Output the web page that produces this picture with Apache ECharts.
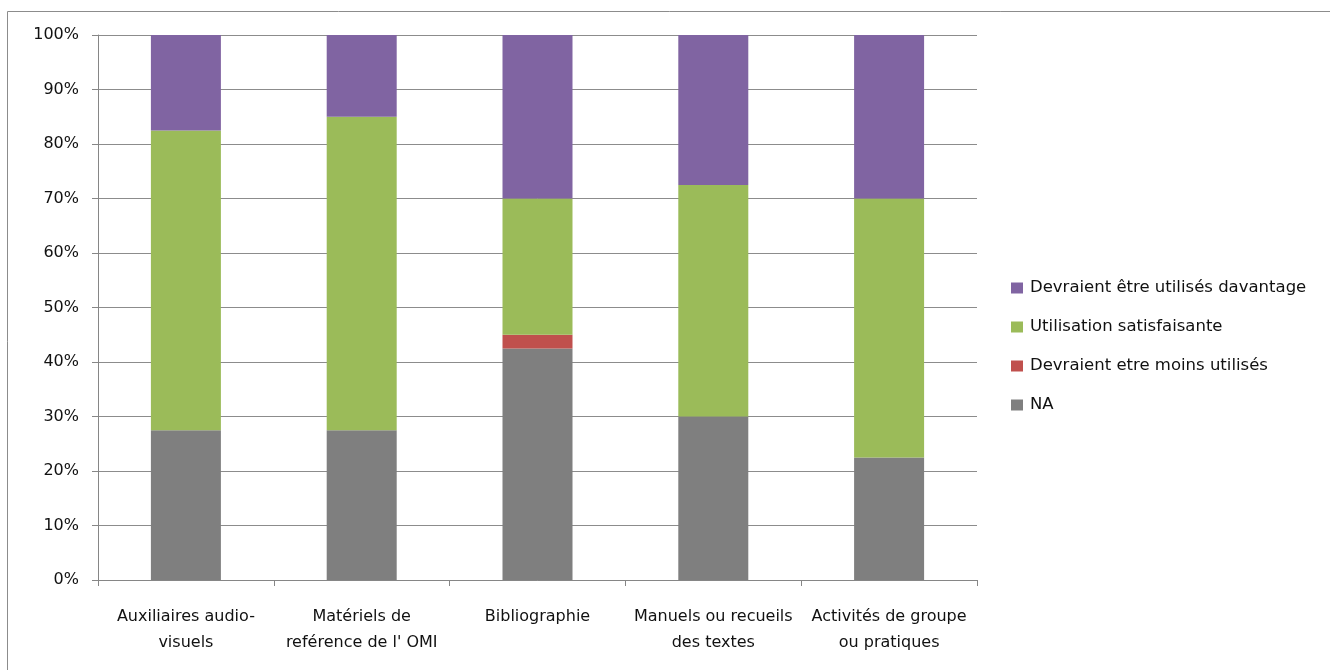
<!DOCTYPE html>
<html>
<head>
<meta charset="utf-8">
<script src="https://cdn.jsdelivr.net/npm/echarts@6/dist/echarts.min.js"></script>
<style>html,body{margin:0;padding:0;background:#fff}#c{width:1330px;height:670px}</style>
</head>
<body>
<div id="c"></div>
<script>
var categories = ["Auxiliaires audio-\nvisuels", "Matériels de\nreférence de l' OMI", "Bibliographie", "Manuels ou recueils\ndes textes", "Activités de groupe\nou pratiques"];
var naValues = [27.5, 27.5, 42.5, 30, 22.5];
var moinsValues = [0, 0, 2.5, 0, 0];
var satisfaisanteValues = [55, 57.5, 25, 42.5, 47.5];
var davantageValues = [17.5, 15, 30, 27.5, 30];
var seriesNames = ["NA", "Devraient etre moins utilisés", "Utilisation satisfaisante", "Devraient être utilisés davantage"];
var legendOrder = ["Devraient être utilisés davantage", "Utilisation satisfaisante", "Devraient etre moins utilisés", "NA"];
var yTicks = [0, 10, 20, 30, 40, 50, 60, 70, 80, 90, 100];

var colors = ["#7F7F7F", "#C0504D", "#9BBB59", "#8064A2"];
var valueSets = [naValues, moinsValues, satisfaisanteValues, davantageValues];
var font = "'DejaVu Sans', sans-serif";

var chart = echarts.init(document.getElementById('c'), null, {renderer: 'canvas'});
chart.setOption({
  animation: false,
  textStyle: {fontFamily: font},
  graphic: [{
    type: 'rect', silent: true,
    shape: {x: 7.5, y: 11.5, width: 1340, height: 700},
    style: {fill: 'none', stroke: '#8c8c8c', lineWidth: 1}
  }],
  grid: {left: 98, right: 353, top: 35, bottom: 90, containLabel: false},
  legend: {
    orient: 'vertical', left: 1011, top: 279, padding: 0,
    itemWidth: 12, itemHeight: 11, itemGap: 21,
    icon: 'rect',
    data: legendOrder,
    textStyle: {fontFamily: font, fontSize: 16.5, color: '#111', lineHeight: 18, padding: [0, 0, 0, 2]}
  },
  xAxis: {
    type: 'category', data: categories,
    axisLine: {lineStyle: {color: '#868686', width: 1}},
    axisTick: {show: true, length: 6, lineStyle: {color: '#868686'}},
    axisLabel: {fontFamily: font, fontSize: 16, color: '#111', lineHeight: 26, margin: 24, interval: 0}
  },
  yAxis: {
    type: 'value', min: 0, max: 100, interval: 10,
    axisLine: {show: true, lineStyle: {color: '#868686', width: 1}},
    axisTick: {show: true, length: 6, lineStyle: {color: '#868686'}},
    splitLine: {lineStyle: {color: '#8c8c8c', width: 1}},
    axisLabel: {fontFamily: font, fontSize: 16, color: '#111', margin: 19,
      formatter: function (v) { return yTicks.indexOf(v) >= 0 ? v + '%' : ''; }}
  },
  series: seriesNames.map(function (name, i) {
    return {
      name: name, type: 'bar', stack: 'total',
      barWidth: 70,
      itemStyle: {color: colors[i]},
      data: valueSets[i]
    };
  })
});
</script>
</body>
</html>
